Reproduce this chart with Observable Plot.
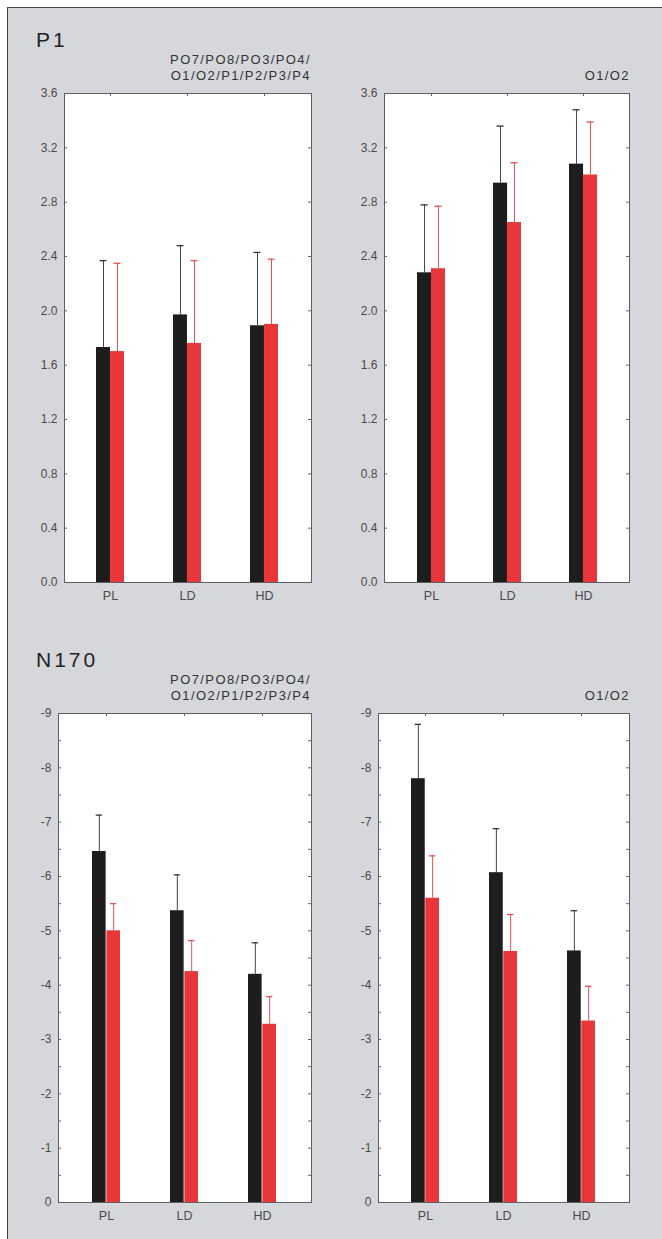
<!DOCTYPE html>
<html><head><meta charset="utf-8">
<script src="https://cdn.jsdelivr.net/npm/d3@7"></script>
<script src="https://cdn.jsdelivr.net/npm/@observablehq/plot@0.6"></script>
<style>
body{margin:0;background:#fff;}
#fig{position:relative;width:662px;height:1239px;overflow:hidden;}
#box{position:absolute;left:7px;top:7px;width:700px;height:1300px;background:#d6d7db;border-top:1.5px solid #444;border-left:1.5px solid #444;}
.panel{position:absolute;}
.title{position:absolute;font-family:"Liberation Sans",Arial,sans-serif;font-size:21px;line-height:21px;letter-spacing:3px;color:#222;}
.sub{position:absolute;font-family:"Liberation Sans",Arial,sans-serif;font-size:13px;line-height:15.5px;letter-spacing:1.4px;color:#333;text-align:right;}
</style></head>
<body>
<div id="fig"><div id="box"></div></div>
<script>
// ---- data ----
const categories = ["PL", "LD", "HD"];
const groups = ["Group A", "Group B"];            // black, red
const panelTitles = ["P1", "N170"];
const regionAll = ["PO7/PO8/PO3/PO4/", "O1/O2/P1/P2/P3/P4"];
const regionOcc = ["O1/O2"];

// P1 amplitude, all parieto-occipital sites
const p1AllMeanA = [1.73, 1.97, 1.89];
const p1AllErrA  = [0.64, 0.51, 0.54];
const p1AllMeanB = [1.70, 1.76, 1.90];
const p1AllErrB  = [0.65, 0.61, 0.48];
// P1 amplitude, O1/O2
const p1OccMeanA = [2.28, 2.94, 3.08];
const p1OccErrA  = [0.50, 0.42, 0.40];
const p1OccMeanB = [2.31, 2.65, 3.00];
const p1OccErrB  = [0.46, 0.44, 0.39];
// N170 amplitude, all sites
const n170AllMeanA = [-6.46, -5.37, -4.20];
const n170AllErrA  = [0.67, 0.66, 0.58];
const n170AllMeanB = [-5.00, -4.25, -3.28];
const n170AllErrB  = [0.50, 0.57, 0.51];
// N170 amplitude, O1/O2
const n170OccMeanA = [-7.80, -6.07, -4.63];
const n170OccErrA  = [1.00, 0.81, 0.74];
const n170OccMeanB = [-5.60, -4.62, -3.34];
const n170OccErrB  = [0.78, 0.68, 0.64];

// tick values
const p1Ticks = [0, 0.4, 0.8, 1.2, 1.6, 2.0, 2.4, 2.8, 3.2, 3.6];
const n170Ticks = [0, -1, -2, -3, -4, -5, -6, -7, -8, -9];
const n170Minor = [-0.5, -1.5, -2.5, -3.5, -4.5, -5.5, -6.5, -7.5, -8.5];

function rows(meanA, errA, meanB, errB) {
  const out = [];
  categories.forEach((c, i) => {
    const sA = Math.sign(meanA[i]) || 1, sB = Math.sign(meanB[i]) || 1;
    out.push({cat: c, g: groups[0], mean: meanA[i], tip: meanA[i] + sA * errA[i]});
    out.push({cat: c, g: groups[1], mean: meanB[i], tip: meanB[i] + sB * errB[i]});
  });
  return out;
}

const BLACK = "#1d1d1d", RED = "#e8373a";
const W = 331, H = 560, MT = 33, MB = 38;

function panel({data, yDomain, ticks, minor, fmt, marginLeft, marginRight}) {
  const frameW = W - marginLeft - marginRight;
  const frameH = H - MT - MB;
  const pi = 0.636, po = 0.42;
  const step = frameW / (3 - pi + 2 * po);
  const bw = step * (1 - pi);
  const half = bw / 2, cap = 7;
  const A = data.filter(d => d.g === groups[0]);
  const B = data.filter(d => d.g === groups[1]);
  const allTicks = ticks.concat(minor || []);
  return Plot.plot({
    width: W, height: H, marginLeft, marginRight, marginTop: MT, marginBottom: MB,
    style: {background: "transparent", fontFamily: "Liberation Sans, Arial, sans-serif", fontSize: "12px", color: "#4a4a4a", overflow: "visible"},
    x: {domain: categories, paddingInner: pi, paddingOuter: po, label: null},
    y: {domain: yDomain, label: null},
    marks: [
      Plot.frame({fill: "white", stroke: null}),
      Plot.ruleX(A, {x: "cat", y1: "mean", y2: "tip", dx: -bw / 4, stroke: "#444", strokeWidth: 1}),
      Plot.ruleX(B, {x: "cat", y1: "mean", y2: "tip", dx: bw / 4, stroke: "#ea5050", strokeWidth: 1}),
      Plot.tickY(A, {x: "cat", y: "tip", insetLeft: half / 2 - cap / 2, insetRight: bw - half / 2 - cap / 2, stroke: "#333", strokeWidth: 1.3}),
      Plot.tickY(B, {x: "cat", y: "tip", insetLeft: 3 * bw / 4 - cap / 2, insetRight: bw / 4 - cap / 2, stroke: "#ea5050", strokeWidth: 1.3}),
      Plot.barY(A, {x: "cat", y: "mean", fill: BLACK, insetRight: half}),
      Plot.barY(B, {x: "cat", y: "mean", fill: RED, insetLeft: half}),
      // inner tick marks on left/right/top of the frame
      Plot.tickY(allTicks, {y: d => d, insetRight: frameW - 3, stroke: "#666"}),
      Plot.tickY(allTicks, {y: d => d, insetLeft: frameW - 3, stroke: "#666"}),
      Plot.tickX(categories, {x: d => d, insetBottom: frameH - 3, stroke: "#666"}),
      Plot.frame({stroke: "#606060", strokeWidth: 1}),
      Plot.axisY({ticks, tickFormat: fmt, tickSize: 0, tickPadding: 7, label: null, fill: "#4a4a4a"}),
      Plot.axisX({tickSize: 0, tickPadding: 9, label: null, fontSize: 12.5, fill: "#4a4a4a"})
    ]
  });
}

const fig = document.getElementById("fig");
function place(node, left, top) {
  node.classList.add("panel");
  node.style.left = left + "px";
  node.style.top = top + "px";
  fig.appendChild(node);
}
function text(cls, lines, style) {
  const d = document.createElement("div");
  d.className = cls;
  d.innerHTML = lines.join("<br>");
  Object.assign(d.style, style);
  fig.appendChild(d);
}

const fmtP1 = d3.format(".1f");
const fmtN = d => String(d);

place(panel({data: rows(p1AllMeanA, p1AllErrA, p1AllMeanB, p1AllErrB), yDomain: [0, 3.6], ticks: p1Ticks, fmt: fmtP1, marginLeft: 64, marginRight: 20}), 0, 60);
place(panel({data: rows(p1OccMeanA, p1OccErrA, p1OccMeanB, p1OccErrB), yDomain: [0, 3.6], ticks: p1Ticks, fmt: fmtP1, marginLeft: 53, marginRight: 33}), 331, 60);
place(panel({data: rows(n170AllMeanA, n170AllErrA, n170AllMeanB, n170AllErrB), yDomain: [0, -9], ticks: n170Ticks, minor: n170Minor, fmt: fmtN, marginLeft: 58, marginRight: 20}), 0, 680);
place(panel({data: rows(n170OccMeanA, n170OccErrA, n170OccMeanB, n170OccErrB), yDomain: [0, -9], ticks: n170Ticks, minor: n170Minor, fmt: fmtN, marginLeft: 47, marginRight: 33}), 331, 680);

text("title", [panelTitles[0]], {left: "36px", top: "29px"});
text("title", [panelTitles[1]], {left: "36px", top: "649px"});
text("sub", regionAll, {left: "0px", width: "311px", top: "52px"});
text("sub", regionOcc, {left: "331px", width: "299px", top: "68px"});
text("sub", regionAll, {left: "0px", width: "311px", top: "672px"});
text("sub", regionOcc, {left: "331px", width: "299px", top: "688px"});
</script>
</body></html>
